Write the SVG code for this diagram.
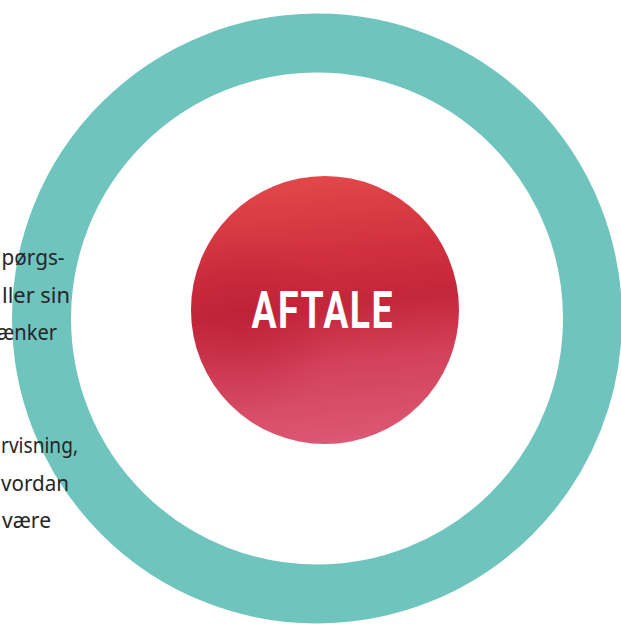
<svg xmlns="http://www.w3.org/2000/svg" width="621" height="624" viewBox="0 0 621 624">
  <defs>
    <linearGradient id="redGrad" x1="0.45" y1="0" x2="0.55" y2="1">
      <stop offset="0" stop-color="#e2484a"/>
      <stop offset="0.3" stop-color="#d0303e"/>
      <stop offset="0.48" stop-color="#c4263a"/>
      <stop offset="0.7" stop-color="#d3415a"/>
      <stop offset="1" stop-color="#dc5874"/>
    </linearGradient>
    <radialGradient id="shade" cx="0.2" cy="0.55" r="0.35">
      <stop offset="0" stop-color="#b81c35" stop-opacity="0.45"/>
      <stop offset="1" stop-color="#b81c35" stop-opacity="0"/>
    </radialGradient>
    <style>
      .side { font-family: "Noto Sans", "Liberation Sans", sans-serif; font-size: 21.5px; fill: #262626; }
      .title { font-family: "Roboto", "Liberation Sans", sans-serif; font-weight: 700; font-size: 52px; fill: #ffffff; text-anchor: middle; }
    </style>
  </defs>
  <rect width="621" height="624" fill="#ffffff"/>
  <g id="ring">
    <circle cx="317" cy="318.5" r="275.5" fill="none" stroke="#6fc4bd" stroke-width="59"/>
  </g>
  <g id="center-node">
    <circle cx="325" cy="310" r="134" fill="url(#redGrad)"/>
    <circle cx="325" cy="310" r="134" fill="url(#shade)"/>
    <text class="title" transform="translate(322,328) scale(0.72,1)" x="0" y="0" textLength="196" lengthAdjust="spacing">AFTALE</text>
  </g>
  <g id="side-text-1">
    <text class="side" x="1.5" y="265" textLength="63" lengthAdjust="spacingAndGlyphs">pørgs-</text>
    <text class="side" x="2" y="302.5" textLength="68" lengthAdjust="spacingAndGlyphs">ller sin</text>
    <text class="side" x="-3" y="340" textLength="60" lengthAdjust="spacingAndGlyphs">ænker</text>
  </g>
  <g id="side-text-2">
    <text class="side" x="1" y="453" textLength="77" lengthAdjust="spacingAndGlyphs">rvisning,</text>
    <text class="side" x="1" y="491" textLength="68" lengthAdjust="spacingAndGlyphs">vordan</text>
    <text class="side" x="2" y="528" textLength="49" lengthAdjust="spacingAndGlyphs">være</text>
  </g>
  <g id="connectors"/>
</svg>
